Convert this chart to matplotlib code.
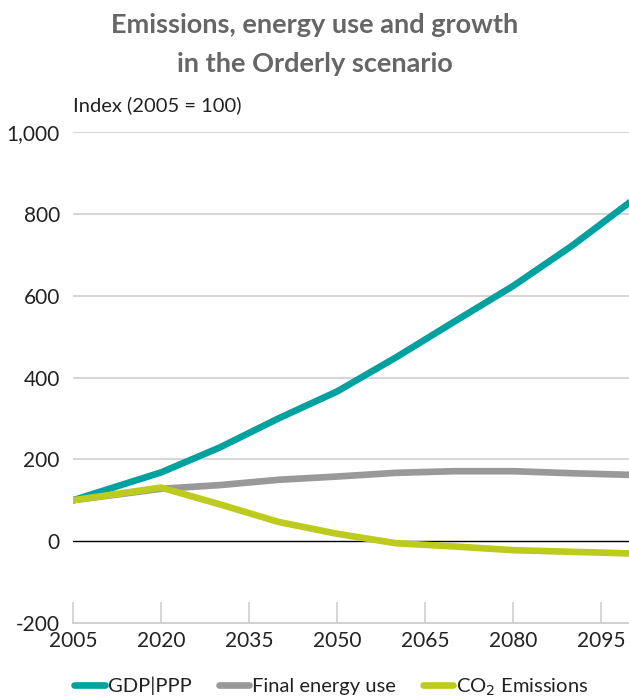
import matplotlib.pyplot as plt
from matplotlib.ticker import FuncFormatter

plt.rcParams['font.family'] = ['Lato', 'DejaVu Sans']

years = [2005, 2020, 2030, 2040, 2050, 2060, 2070, 2080, 2090, 2100]
gdp = [100, 168, 229, 300, 366, 449, 537, 624, 722, 830]
energy = [100, 128, 137, 150, 158, 167, 171, 171, 166, 162]
co2 = [100, 131, 90, 47, 18, -5, -13, -22, -26, -30]

xticks = [2005, 2020, 2035, 2050, 2065, 2080, 2095]
yticks = [-200, 0, 200, 400, 600, 800, 1000]

teal = '#00A19E'
grey = '#999999'
lime = '#BDCB1E'
text_c = '#222222'

fig = plt.figure(figsize=(6.29, 7.0), dpi=100)
ax = fig.add_axes([73 / 629, 1 - 623 / 700, 1 - 73 / 629, (623 - 132) / 700])

# grid lines (0 line is black)
for yv in yticks[2:]:
    ax.axhline(yv, color='#d0d0d0', lw=1.2, zorder=1)
ax.axhline(0, color='black', lw=1.0, zorder=2)

ax.plot(years, gdp, color=teal, lw=4.8, solid_capstyle='round', label='GDP|PPP', zorder=5)
ax.plot(years, energy, color=grey, lw=4.8, solid_capstyle='round', label='Final energy use', zorder=4)
ax.plot(years, co2, color=lime, lw=4.8, solid_capstyle='round', label='CO$_2$ Emissions', zorder=6)

ax.set_xlim(2005, 2099.7)
ax.set_ylim(-200, 1000)
ax.set_xticks(xticks)
ax.set_yticks(yticks)
ax.yaxis.set_major_formatter(FuncFormatter(lambda v, p: f'{int(v):,}'))

for s in ['top', 'right', 'left']:
    ax.spines[s].set_visible(False)
ax.spines['bottom'].set_color('#c8c8c8')
ax.spines['bottom'].set_linewidth(1.2)
ax.tick_params(axis='x', direction='in', length=15, width=1.2, color='#d0d0d0',
               labelsize=15, labelcolor=text_c, pad=6)
ax.tick_params(axis='y', length=0, labelsize=15, labelcolor=text_c, pad=9.5)

fig.text(0.5, 1 - 25 / 700, 'Emissions, energy use and growth', ha='center', va='center',
         fontsize=19.5, fontweight='bold', color='#666666')
fig.text(0.5, 1 - 64 / 700, 'in the Orderly scenario', ha='center', va='center',
         fontsize=19.5, fontweight='bold', color='#666666')
fig.text(73 / 629, 1 - 105 / 700, 'Index (2005 = 100)', ha='left', va='center',
         fontsize=14.5, color=text_c)

fig.legend(loc='center', bbox_to_anchor=(0.527, 1 - 687 / 700), ncol=3, frameon=False,
           fontsize=14.5, handlelength=1.5, handletextpad=0.15, columnspacing=1.35,
           labelcolor=text_c)

fig.savefig('out.png', dpi=100)
